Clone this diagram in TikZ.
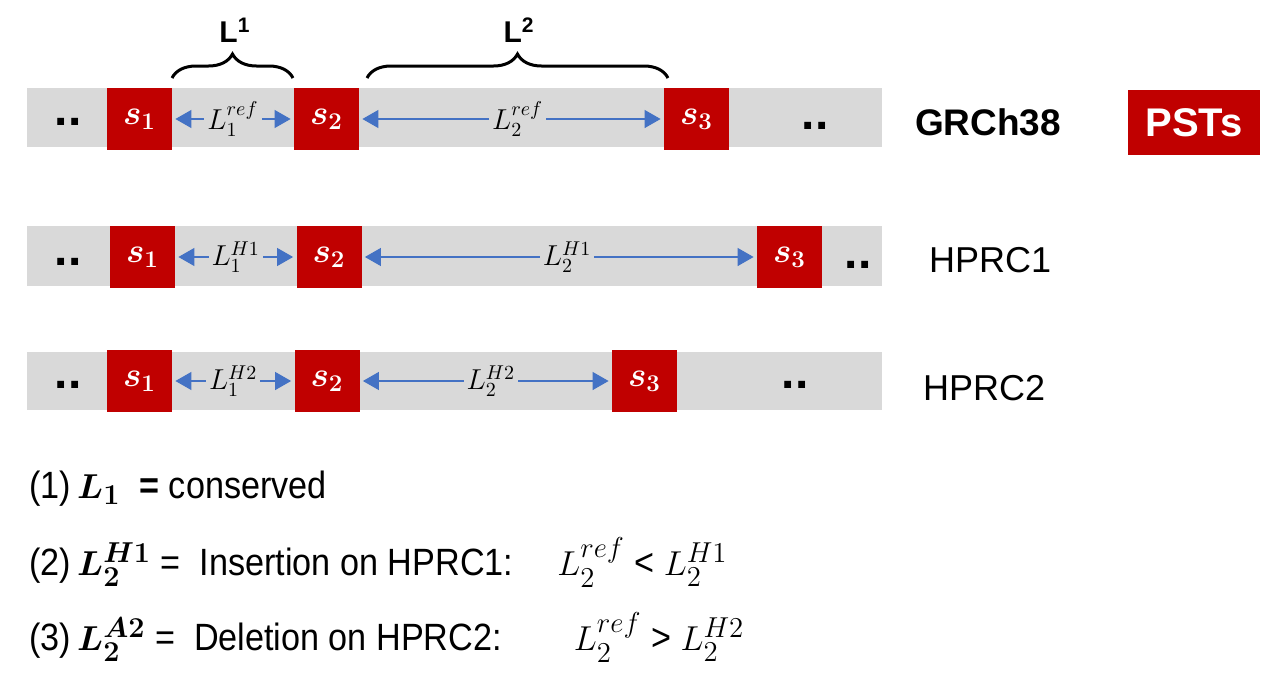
\documentclass[tikz,border=0pt]{standalone}
\usepackage{amsmath}
\usepackage{fontspec}
\setmainfont{Liberation Sans}
\newfontfamily\notefont[FakeStretch=0.9]{Liberation Sans}
\usetikzlibrary{arrows.meta,decorations.pathreplacing}
\definecolor{segred}{HTML}{C00000}
\definecolor{bargray}{HTML}{D9D9D9}
\definecolor{lenblue}{HTML}{4472C4}
\begin{document}
\begin{tikzpicture}[x=0.5pt,y=-0.5pt,
    bar/.style={fill=bargray},
    seg/.style={fill=segred,text=white,minimum width=32.5pt,minimum height=31pt,
      inner sep=0pt,font=\fontsize{16.5}{16.5}\selectfont},
    len/.style={draw=lenblue,line width=0.6pt,
      {Triangle[length=8pt,width=9pt]}-{Triangle[length=8pt,width=9pt]},
      shorten <=1.5pt,shorten >=1.5pt},
    lab/.style={fill=bargray,inner sep=1.5pt,font=\fontsize{14}{14}\selectfont},
    dots/.style={inner sep=0pt,font=\bfseries\fontsize{24}{24}\selectfont},
    track/.style={anchor=west,font=\fontsize{18}{18}\selectfont},
    span/.style={decorate,decoration={brace,amplitude=12pt},line width=1.5pt},
    note/.style={anchor=base west,font=\notefont\fontsize{19}{19}\selectfont}]
  \useasboundingbox (0,0) rectangle (1271,687);
  % GRCh38
  \fill[bar] (27,88) rectangle (882,147);
  \node[dots] (r1a) at (68,122) {..};
  \node[seg] (r1s1) at (139.5,119) {$\boldsymbol{s_1}$};
  \node[seg] (r1s2) at (326.5,119) {$\boldsymbol{s_2}$};
  \node[seg] (r1s3) at (696.5,119) {$\boldsymbol{s_3}$};
  \node[dots] (r1b) at (815,126) {..};
  \draw[len] (r1s1) -- (r1s2) node[lab,midway] {$L_1^{ref}$};
  \draw[len] (r1s2) -- (r1s3) node[lab,pos=0.52] {$L_2^{ref}$};
  \node[track,font=\bfseries\fontsize{18.5}{18.5}\selectfont] (ref) at (908,122) {GRCh38};
  \node[fill=segred,text=white,minimum width=66pt,minimum height=32.5pt,
    font=\bfseries\fontsize{20}{20}\selectfont] (psts) at (1194,122.5) {PSTs};
  % Klammern
  \draw[span] (172,78) -- (293,78);
  \draw[span] (367,78) -- (668,78);
  \node[font=\bfseries\fontsize{15}{15}\selectfont] (l1) at (235,30) {L\textsuperscript{1}};
  \node[font=\bfseries\fontsize{15}{15}\selectfont] (l2) at (519,30) {L\textsuperscript{2}};
  % HPRC1
  \fill[bar] (27,226) rectangle (882,286);
  \node[dots] (r2a) at (68,262) {..};
  \node[seg] (r2s1) at (142.5,257) {$\boldsymbol{s_1}$};
  \node[seg] (r2s2) at (329,257) {$\boldsymbol{s_2}$};
  \node[seg] (r2s3) at (789.5,257) {$\boldsymbol{s_3}$};
  \node[dots] (r2b) at (858,265) {..};
  \draw[len] (r2s1) -- (r2s2) node[lab,midway] {$L_1^{H1}$};
  \draw[len] (r2s2) -- (r2s3) node[lab,pos=0.52] {$L_2^{H1}$};
  \node[track] (h1) at (922,260) {HPRC1};
  % HPRC2
  \fill[bar] (27,352) rectangle (882,410);
  \node[dots] (r3a) at (68,385) {..};
  \node[seg] (r3s1) at (139.5,381) {$\boldsymbol{s_1}$};
  \node[seg] (r3s2) at (327,381) {$\boldsymbol{s_2}$};
  \node[seg] (r3s3) at (644.5,381) {$\boldsymbol{s_3}$};
  \node[dots] (r3b) at (795,385) {..};
  \draw[len] (r3s1) -- (r3s2) node[lab,midway] {$L_1^{H2}$};
  \draw[len] (r3s2) -- (r3s3) node[lab,pos=0.52] {$L_2^{H2}$};
  \node[track] (h2) at (916,388) {HPRC2};
  % Erklaerung
  \node[note] (n1) at (22,498) {(1)\,$\boldsymbol{L_1}$ \ \textbf{=} conserved};
  \node[note] (n2) at (22,575) {(2)\,$\boldsymbol{L_2^{H1}}$ = \ Insertion on HPRC1:\hspace{22pt}$L_2^{ref}$ < $L_2^{H1}$};
  \node[note] (n3) at (22,650) {(3)\,$\boldsymbol{L_2^{A2}}$ = \ Deletion on HPRC2:\hspace{36pt}$L_2^{ref}$ > $L_2^{H2}$};
\end{tikzpicture}
\end{document}
